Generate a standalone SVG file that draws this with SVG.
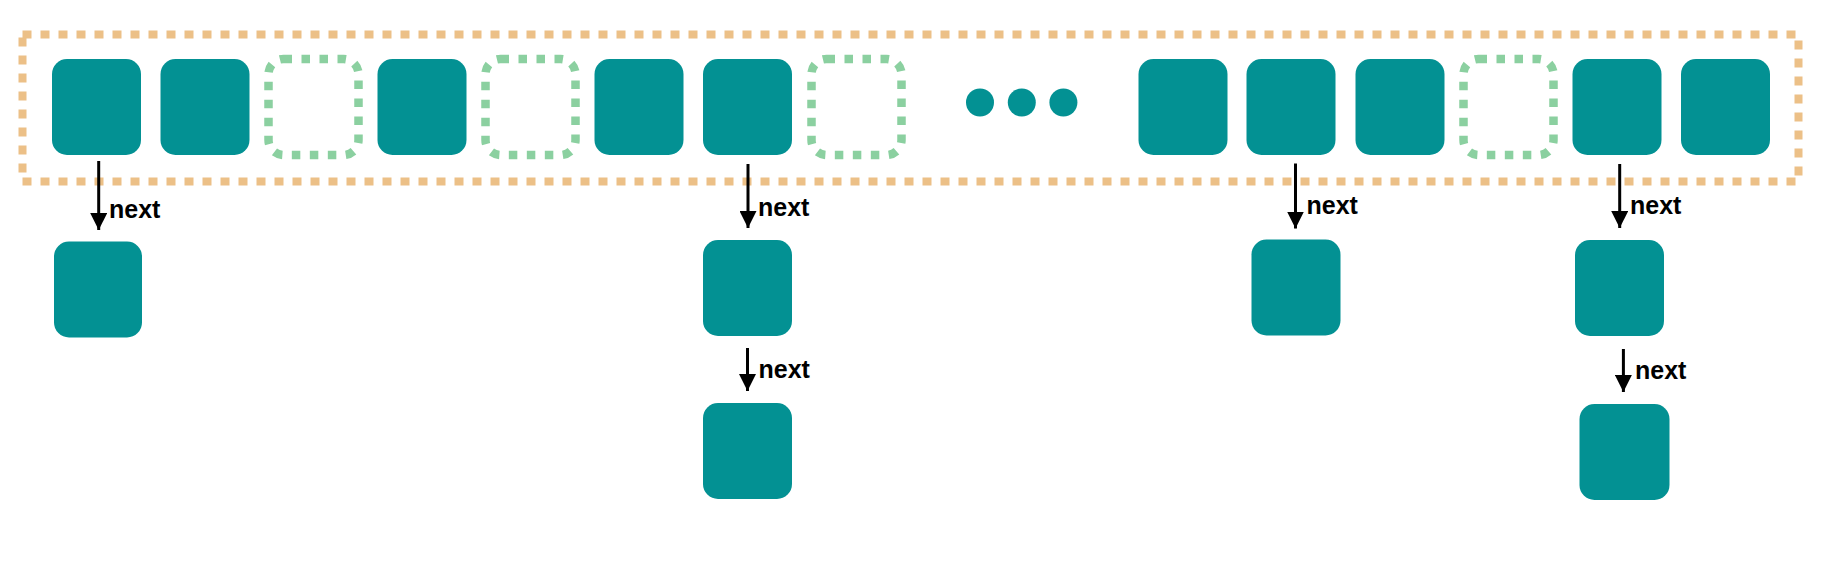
<svg xmlns="http://www.w3.org/2000/svg" width="1843" height="574" viewBox="0 0 1843 574">
<style>
.box{fill:#039193;}
.empty{fill:none;stroke:#8BD0A0;stroke-width:8.5;stroke-dasharray:8.5 9.5;}
.frame{fill:none;stroke:#ECC087;stroke-width:8;stroke-dasharray:9 9;}
.dot{fill:#039193;}
.conn{stroke:#000;stroke-width:3;fill:none;}
.lbl{font-family:"Liberation Sans",Arial,sans-serif;font-weight:bold;font-size:25px;fill:#000;}
</style>
<defs>
<marker id="ah" markerWidth="17" markerHeight="17" viewBox="0 0 17 17" refX="17" refY="8.5" orient="auto" markerUnits="userSpaceOnUse">
<path d="M0,0 L17,8.5 L0,17 Z" fill="#000"/>
</marker>
</defs>
<rect width="1843" height="574" fill="#fff"/>
<g id="frame">
<rect class="frame" x="22.5" y="34.5" width="1776" height="147"/>
</g>
<g id="top-row">
<rect id="t1" class="box" x="52" y="59" width="89" height="96" rx="15"/>
<rect id="t2" class="box" x="160.5" y="59" width="89" height="96" rx="15"/>
<rect id="t3" class="empty" x="268.5" y="59" width="90" height="96" rx="15"/>
<rect id="t4" class="box" x="377.5" y="59" width="89" height="96" rx="15"/>
<rect id="t5" class="empty" x="485.5" y="59" width="90" height="96" rx="15"/>
<rect id="t6" class="box" x="594.5" y="59" width="89" height="96" rx="15"/>
<rect id="t7" class="box" x="703" y="59" width="89" height="96" rx="15"/>
<rect id="t8" class="empty" x="811.5" y="59" width="90" height="96" rx="15"/>
<g id="ellipsis">
<circle class="dot" cx="980" cy="102.5" r="14"/>
<circle class="dot" cx="1021.8" cy="102.5" r="14"/>
<circle class="dot" cx="1063.4" cy="102.5" r="14"/>
</g>
<rect id="t9" class="box" x="1138.5" y="59" width="89" height="96" rx="15"/>
<rect id="t10" class="box" x="1246.5" y="59" width="89" height="96" rx="15"/>
<rect id="t11" class="box" x="1355.5" y="59" width="89" height="96" rx="15"/>
<rect id="t12" class="empty" x="1463.5" y="59" width="90" height="96" rx="15"/>
<rect id="t13" class="box" x="1572.5" y="59" width="89" height="96" rx="15"/>
<rect id="t14" class="box" x="1681" y="59" width="89" height="96" rx="15"/>
</g>
<g id="b1"><rect class="box" x="54" y="241.5" width="88" height="96" rx="15"/></g>
<g id="b2"><rect class="box" x="703" y="240" width="89" height="96" rx="15"/></g>
<g id="b3"><rect class="box" x="1251.5" y="239.5" width="89" height="96" rx="15"/></g>
<g id="b4"><rect class="box" x="1575" y="240" width="89" height="96" rx="15"/></g>
<g id="b5"><rect class="box" x="703" y="403" width="89" height="96" rx="15"/></g>
<g id="b6"><rect class="box" x="1579.5" y="404" width="90" height="96" rx="15"/></g>
<g id="connectors">
<line class="conn" x1="98.7" y1="161" x2="98.7" y2="230" marker-end="url(#ah)"/>
<line class="conn" x1="748" y1="164" x2="748" y2="228" marker-end="url(#ah)"/>
<line class="conn" x1="1295.5" y1="163.5" x2="1295.5" y2="228.5" marker-end="url(#ah)"/>
<line class="conn" x1="1619.7" y1="164" x2="1619.7" y2="228" marker-end="url(#ah)"/>
<line class="conn" x1="747.5" y1="348" x2="747.5" y2="391" marker-end="url(#ah)"/>
<line class="conn" x1="1623.4" y1="349" x2="1623.4" y2="392" marker-end="url(#ah)"/>
<text class="lbl" x="109" y="218">next</text>
<text class="lbl" x="758" y="216">next</text>
<text class="lbl" x="1306.5" y="214">next</text>
<text class="lbl" x="1630" y="214">next</text>
<text class="lbl" x="758.5" y="377.5">next</text>
<text class="lbl" x="1635" y="378.5">next</text>
</g>
</svg>
